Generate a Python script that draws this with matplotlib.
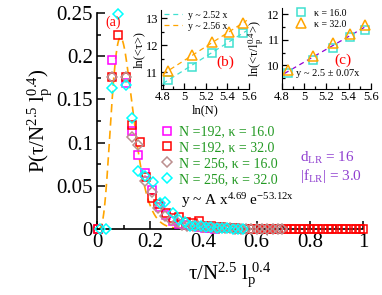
import numpy as np
import matplotlib
matplotlib.use("Agg")
import matplotlib.pyplot as plt
from matplotlib.ticker import MultipleLocator

plt.rcParams['font.family'] = ['Liberation Serif', 'DejaVu Serif']
plt.rcParams['mathtext.fontset'] = 'custom'
plt.rcParams['mathtext.rm'] = 'Liberation Serif'
plt.rcParams['mathtext.it'] = 'Liberation Serif'
plt.rcParams['mathtext.default'] = 'regular'

# ---------------- main panel data ----------------
pink_x = [0.005, 0.055, 0.108, 0.13, 0.155, 0.18, 0.205, 0.237, 0.26, 0.285, 0.31,
          0.335, 0.36, 0.385, 0.405, 0.425, 0.445]
pink_y = [0.0, 0.196, 0.169, 0.114, 0.086, 0.065, 0.045, 0.026, 0.016, 0.009, 0.006,
          0.005, 0.003, 0.002, 0.001, 0.001, 0.0]

red_x = [0.005, 0.055, 0.08, 0.108, 0.13, 0.16, 0.183, 0.205, 0.23, 0.258, 0.285,
         0.31, 0.335, 0.36, 0.385, 0.41, 0.43, 0.4475, 0.465, 0.4825, 0.50, 0.5175,
         0.535, 0.5525, 0.57, 0.5875, 0.605, 0.6225, 0.64, 0.6575, 0.675, 0.6925,
         0.71, 0.7275, 0.745, 0.7625, 0.78, 0.7975, 0.815, 0.8325, 0.85, 0.8675,
         0.885, 0.9025, 0.92, 0.9375, 0.955, 0.9725, 0.99, 1.0]
red_y = [0.0, 0.176, 0.2245, 0.176, 0.120, 0.101, 0.060, 0.0355, 0.029, 0.018, 0.013,
         0.014, 0.008, 0.007, 0.009, 0.004, 0.003, 0.002, 0.002, 0.001, 0.001, 0.001,
         0.0, 0.0, 0.0, 0.0, 0.0, 0.0, 0.0, 0.0, 0.0, 0.0, 0.0, 0.0, 0.0, 0.0, 0.0,
         0.0, 0.0, 0.0, 0.0, 0.0, 0.0, 0.0, 0.0, 0.0, 0.0, 0.0, 0.0, 0.0]

grey_x = [0.055, 0.108, 0.13, 0.155, 0.18, 0.205, 0.23, 0.255, 0.28, 0.30, 0.32, 0.34,
          0.36, 0.38, 0.40, 0.42, 0.44, 0.46, 0.48, 0.50, 0.52, 0.54, 0.56, 0.58, 0.60,
          0.62, 0.64, 0.66, 0.68, 0.695]
grey_y = [0.176, 0.176, 0.106, 0.097, 0.055, 0.043, 0.024, 0.015, 0.010, 0.008, 0.005,
          0.004, 0.003, 0.003, 0.002, 0.002, 0.001, 0.001, 0.001, 0.001, 0.0, 0.0, 0.0,
          0.0, 0.0, 0.0, 0.0, 0.0, 0.0, 0.0]

cyan_x = [0.01, 0.035, 0.055, 0.08, 0.108, 0.13, 0.155, 0.18, 0.212, 0.235, 0.255,
          0.287, 0.31, 0.33, 0.35, 0.37, 0.39, 0.41, 0.43, 0.45, 0.47, 0.49, 0.51,
          0.53, 0.55]
cyan_y = [0.0, 0.0, 0.163, 0.249, 0.167, 0.128, 0.0675, 0.061, 0.054, 0.030, 0.0316,
          0.018, 0.010, 0.008, 0.004, 0.003, 0.003, 0.002, 0.002, 0.001, 0.001, 0.001,
          0.0, 0.0, 0.0]

fit_A = 2.12e6
fit_a = 4.69
fit_b = 53.12

# ---------------- inset (b) data ----------------
lnN = [4.852, 5.075, 5.257, 5.412, 5.545]
lntau_k16 = [10.70, 11.20, 11.69, 12.06, 12.43]
lntau_k32 = [11.05, 11.63, 12.12, 12.49, 12.80]
slope_b16, icpt_b16 = 2.52, -1.527
slope_b32, icpt_b32 = 2.56, -1.371

# ---------------- inset (c) data ----------------
lnscaled_k16 = [9.69, 10.23, 10.69, 11.12, 11.39]
lnscaled_k32 = [9.83, 10.36, 10.89, 11.23, 11.56]
slope_c, icpt_c = 2.5, -2.37

W, H = 382, 295
fig = plt.figure(figsize=(W / 100, H / 100), dpi=100)

def px_axes(l, t, r, b):
    return fig.add_axes([l / W, 1 - b / H, (r - l) / W, (b - t) / H])

# main axes
ax = px_axes(97, 13, 363, 229)
ax.set_xlim(0, 1)
ax.set_ylim(0, 0.25)
for s in ['top', 'right']:
    ax.spines[s].set_visible(False)
for s in ['left', 'bottom']:
    ax.spines[s].set_linewidth(1.2)

xx = np.linspace(0.0, 0.6, 400)
ax.plot(xx, fit_A * xx ** fit_a * np.exp(-fit_b * xx), color='#ffa500',
        lw=1.2, dashes=(5, 3), zorder=2)

mk = dict(ls='none', mfc='none', mew=1.1, clip_on=False, zorder=3)
ax.plot(pink_x, pink_y, marker='s', ms=6, mec='#ff00ff', label='N =192, κ = 16.0', **mk)
ax.plot(red_x, red_y, marker='s', ms=6, mec='#ff0000', label='N =192, κ = 32.0', **mk)
ax.plot(grey_x, grey_y, marker='D', ms=4.8, mec='#bc8f8f', label='N = 256, κ = 16.0', **mk)
ax.plot(cyan_x, cyan_y, marker='D', ms=4.8, mec='#00ffff', label='N = 256, κ = 32.0', **mk)

ax.xaxis.set_minor_locator(MultipleLocator(0.1))
ax.yaxis.set_minor_locator(MultipleLocator(0.025))
ax.set_xticks([0, 0.2, 0.4, 0.6, 0.8, 1.0])
ax.set_xticklabels(['0', '0.2', '0.4', '0.6', '0.8', '1'])
ax.set_yticks([0, 0.05, 0.1, 0.15, 0.2, 0.25])
ax.set_yticklabels(['0', '0.05', '0.1', '0.15', '0.2', '0.25'])
ax.tick_params(which='both', direction='in', labelsize=15, width=1.1)
ax.tick_params(which='major', length=6, pad=3)
ax.tick_params(which='minor', length=3)

ax.set_xlabel('τ/N$^{2.5}$ l$_{p}^{\\ 0.4}$', fontsize=15, labelpad=6)
ax.set_ylabel('P(τ/N$^{2.5}$ l$_{p}^{0.4}$)', fontsize=15, labelpad=2)

leg = ax.legend(loc='upper left', bbox_to_anchor=(153 / W, 1 - 120 / H),
                bbox_transform=fig.transFigure, frameon=False, fontsize=10,
                handletextpad=0.3, labelspacing=0.2, borderaxespad=0, handlelength=1.2)
for t in leg.get_texts():
    t.set_color('#229922')

fig.text(105 / W, 1 - 22 / H, '(a)', color='#ff0000', fontsize=10, ha='left', va='center')
fig.text(300 / W, 1 - 158 / H, 'd$_{LR}$ = 16', color='#9040d0', fontsize=11, ha='left', va='center')
fig.text(300 / W, 1 - 176 / H, '|f$_{LR}$| = 3.0', color='#9040d0', fontsize=11, ha='left', va='center')
fig.text(181 / W, 1 - 201 / H, 'y ~ A x$^{4.69}$ e$^{-53.12x}$', color='black', fontsize=11,
         ha='left', va='center')

# inset (b)
axb = px_axes(160.5, 10, 249, 89)
axb.set_xlim(4.78, 5.6)
axb.set_ylim(10.37, 13.3)
for s in ['top', 'right']:
    axb.spines[s].set_visible(False)
lx = np.array([4.80, 5.58])
axb.plot(lx, slope_b16 * lx + icpt_b16, color='#40e0d0', lw=0.9, dashes=(4, 3),
         label='y ~ 2.52 x')
axb.plot(lx, slope_b32 * lx + icpt_b32, color='#ffa500', lw=0.9, dashes=(4, 3),
         label='y ~ 2.56 x')
axb.plot(lnN, lntau_k16, ls='none', marker='s', ms=6, mfc='none', mec='#40e0d0', mew=1.1,
         clip_on=False)
axb.plot(lnN, lntau_k32, ls='none', marker='^', ms=7, mfc='none', mec='#ffa500', mew=1.1,
         clip_on=False)
axb.set_xticks([4.8, 5.0, 5.2, 5.4, 5.6])
axb.set_xticklabels(['4.8', '5', '5.2', '5.4', '5.6'])
axb.set_yticks([11, 12, 13])
axb.yaxis.set_minor_locator(MultipleLocator(0.5))
axb.xaxis.set_minor_locator(MultipleLocator(0.1))
axb.tick_params(which='both', direction='in', labelsize=9, width=0.9, pad=1.5)
axb.tick_params(which='major', length=4)
axb.tick_params(which='minor', length=2)
axb.set_xlabel('ln(N)', fontsize=9, labelpad=1)
axb.set_ylabel('ln(<τ>)', fontsize=9, labelpad=1)
lb = axb.legend(loc='upper left', bbox_to_anchor=(0.0, 1.04), frameon=False, fontsize=7,
                handlelength=1.8, handletextpad=0.6, labelspacing=0.2, borderaxespad=0)
fig.text(225 / W, 1 - 62 / H, '(b)', color='#ff0000', fontsize=11, ha='center', va='center')

# inset (c)
axc = px_axes(282, 8, 370.8, 89)
axc.set_xlim(4.8, 5.6)
axc.set_ylim(9.08, 12.24)
for s in ['top', 'right']:
    axc.spines[s].set_visible(False)
lx2 = np.array([4.82, 5.56])
axc.plot(lx2, slope_c * lx2 + icpt_c, color='#9400d3', lw=0.9, dashes=(4, 3))
axc.plot(lnN, lnscaled_k16, ls='none', marker='s', ms=6, mfc='none', mec='#40e0d0', mew=1.1,
         clip_on=False, label='κ = 16.0')
axc.plot(lnN, lnscaled_k32, ls='none', marker='^', ms=7, mfc='none', mec='#ffa500', mew=1.1,
         clip_on=False, label='κ = 32.0')
axc.set_xticks([4.8, 5.0, 5.2, 5.4, 5.6])
axc.set_xticklabels(['4.8', '5', '5.2', '5.4', '5.6'])
axc.set_yticks([10, 11, 12])
axc.yaxis.set_minor_locator(MultipleLocator(0.5))
axc.xaxis.set_minor_locator(MultipleLocator(0.1))
axc.tick_params(which='both', direction='in', labelsize=9, width=0.9, pad=1.5)
axc.tick_params(which='major', length=4)
axc.tick_params(which='minor', length=2)
axc.set_ylabel('ln(<τ/l$_{p}^{0.4}$>)', fontsize=9, labelpad=1)
lc = axc.legend(loc='upper left', bbox_to_anchor=(0.12, 1.04), frameon=False, fontsize=7,
                handlelength=1.0, handletextpad=0.8, labelspacing=0.2, borderaxespad=0)
fig.text(343 / W, 1 - 60 / H, '(c)', color='#ff0000', fontsize=11, ha='center', va='center')
fig.text(296 / W, 1 - 73 / H, 'y ~ 2.5 ± 0.07x', color='black', fontsize=7.5,
         ha='left', va='center')

fig.savefig('out.png', dpi=100)
